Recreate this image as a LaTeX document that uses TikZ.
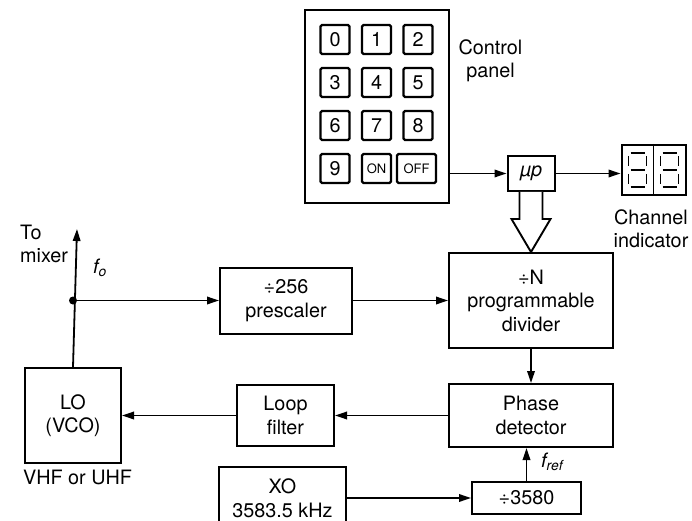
\documentclass[tikz,border=0pt]{standalone}
\usepackage{fontspec}
\setmainfont{TeX Gyre Heros}
\usetikzlibrary{arrows.meta,positioning}
\newcommand{\blockfont}{\fontsize{19.8}{23.5}\selectfont}
\newcommand{\keyfont}{\fontsize{13}{15}\selectfont}
\tikzset{
  base/.style={
    draw,
    line width=2pt,
    inner sep=2pt,
    align=center,
    font=\blockfont,
  },
  component/.style={
    base,
  },
  key/.style={
    base,
    rounded corners=1.5pt,
    line width=2.3pt,
    minimum width=29pt,
    minimum height=29pt,
    inner sep=0pt,
  },
  caption/.style={
    align=center,
    inner sep=0pt,
    font=\blockfont,
  },
  edge/.style={
    >={Triangle[length=12pt,width=7.5pt]},
    line width=1.8pt,
  },
  post/.style={
    edge,->,
  },
  hollow-arrow/.style={
    line width=1.9pt,
    fill=white,
    line join=miter,
  },
  segment/.style={
    line width=1.2pt,
  }
}

\begin{document}
\begin{tikzpicture}[x=1pt, y=-1pt]
    \useasboundingbox (0,0) rectangle (692,521);
    \clip (0,0) rectangle (692,521);

    \node [component, minimum width=164pt, minimum height=95pt] (divider)
      at (531,300.5) {÷N\\programmable\\divider};
    \node [component, minimum width=132pt, minimum height=66pt,
      left=95pt of divider] (prescaler) {÷256\\prescaler};
    \node [component, minimum width=164pt, minimum height=63pt,
      below=34pt of divider] (phase-det) {Phase\\detector};
    \node [component, minimum width=97pt, minimum height=61pt,
      left=113pt of phase-det] (loop-filter) {Loop\\filter};
    \node [component, minimum width=96pt, minimum height=95pt,
      left=114pt of loop-filter] (lo) {LO\\(VCO)};
    \node [component, minimum width=109pt, minimum height=32pt,
      below=33pt of phase-det, xshift=-4.5pt] (div-ref) {÷3580};
    \node [component, minimum width=127pt, minimum height=62pt,
      left=124pt of div-ref] (xo) {XO\\3583.5 kHz};

    % Control side
    \node [component, minimum width=47pt, minimum height=35pt,
      above=60pt of divider] (mu) {\itshape µp};
    \node [base, minimum width=64pt, minimum height=50pt, inner sep=0pt,
      right=65pt of mu, yshift=3.5pt] (display) {};
    \node [base, minimum width=144pt, minimum height=193pt] (panel)
      at (377,106.5) {};

    % Keys
    \foreach \k in {0,...,9} {
      \pgfmathtruncatemacro{\col}{mod(\k,3)}
      \pgfmathtruncatemacro{\row}{int(\k/3)}
      \node [key] (key-\k) at (335+41.5*\col, 39.5+43*\row) {\k};
    }
    \node [key, font=\keyfont] (key-on) at (376.5,168.5) {ON};
    \node [key, font=\keyfont, minimum width=39pt] (key-off)
      at (416.5,168.5) {OFF};

    % Channel display
    \draw [segment] (display.north) -- (display.south);
    \foreach \cx in {-16,16} {
      \begin{scope}[shift={(display.center)}]
        \foreach \sy in {-17,0,17}
          \draw [segment] (\cx-7,\sy) -- (\cx+7,\sy);
        \foreach \sx in {-9,9} {
          \draw [segment] (\cx+\sx,-14) -- (\cx+\sx,-4);
          \draw [segment] (\cx+\sx,4) -- (\cx+\sx,14);
        }
      \end{scope}
    }

    % Labels
    \node [caption] (panel-label) at (490.5,61) {Control\\panel};
    \node [caption] (display-label) at (651,229) {Channel\\indicator};
    \node [caption, align=left, anchor=west] (mixer-label)
      at (20,244) {To\\mixer};
    \node [caption] (band-label) at (77.5,477) {VHF or UHF};
    \node [caption, anchor=west] (fo-label) at (93,268)
      {\itshape f\textsubscript{o}};
    \node [caption, anchor=west] (fref-label) at (541,462)
      {\itshape f\textsubscript{ref}};

    \coordinate (split) at (lo.north |- prescaler.west);
    \coordinate (mixer-out) at (77,229);

    % Loop edges
    \draw [post] (lo.north) -- (mixer-out);
    \fill (split) circle (4pt);
    \draw [post] (split) -- (prescaler.west);
    \draw [post] (prescaler.east) -- (prescaler.east -| divider.west);
    \draw [post] (divider.south) -- (phase-det.north);
    \draw [post] (phase-det.west) -- (phase-det.west -| loop-filter.east);
    \draw [post] (loop-filter.west) -- (loop-filter.west -| lo.east);
    \draw [post] (xo.east) -- (div-ref.west);
    \draw [post] (div-ref.north) -- (div-ref.north |- phase-det.south);

    % Control edges
    \draw [post] (mu.west -| panel.east) -- (mu.west);
    \draw [post] (mu.east) -- (mu.east -| display.west);
    \draw [hollow-arrow] ([xshift=-11.5pt]mu.south)
      -- ([xshift=-11.5pt,yshift=-27pt]mu.south)
      -- ([xshift=-19.5pt,yshift=-27pt]mu.south)
      -- (divider.north)
      -- ([xshift=19.5pt,yshift=-27pt]mu.south)
      -- ([xshift=11.5pt,yshift=-27pt]mu.south)
      -- ([xshift=11.5pt]mu.south);

  \end{tikzpicture}
\end{document}
